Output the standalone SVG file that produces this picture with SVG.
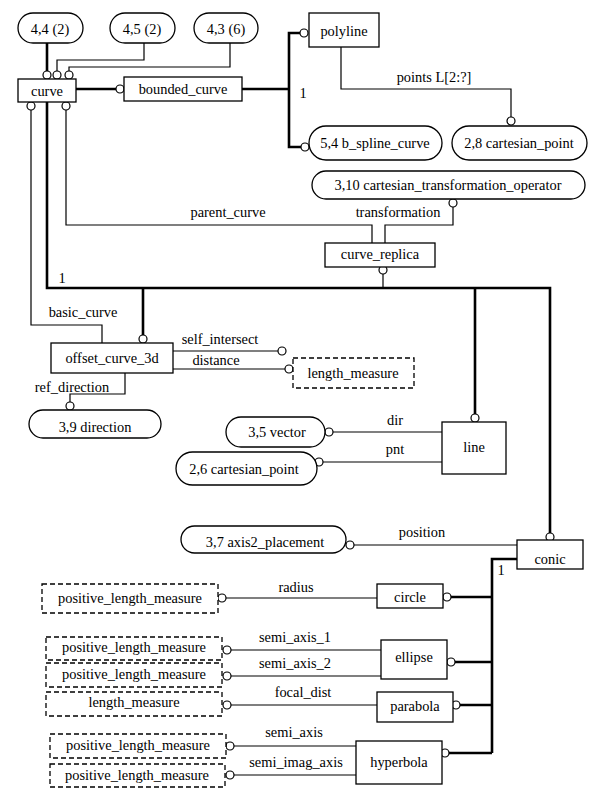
<svg xmlns="http://www.w3.org/2000/svg" width="596" height="797" viewBox="0 0 596 797">
<style>
.ent{fill:#fff;stroke:#000;stroke-width:1.3}
.ref{fill:#fff;stroke:#000;stroke-width:1.3}
.typ{fill:#fff;stroke:#000;stroke-width:1.3;stroke-dasharray:5,3}
.thin{fill:none;stroke:#000;stroke-width:1.2}
.thick{fill:none;stroke:#000;stroke-width:2.6}
.c{fill:#fff;stroke:#000;stroke-width:1.2}
text{font-family:"Liberation Serif","Times New Roman",serif;font-size:14.4px;fill:#000;text-anchor:middle}
</style>
<rect width="596" height="797" fill="#fff"/>
<g id="connectors">
<path class="thick" d="M47 43V71"/>
<path class="thin" d="M144 43V60H57V71"/>
<path class="thin" d="M230 43V67H69V71"/>
<path class="thick" d="M76 89H116"/>
<path class="thick" d="M242 89H289M300 33H289V147H301"/>
<path class="thin" d="M341 47V89H511V117"/>
<path class="thick" d="M47 102V288H550V533M143 288V335M475 288V414"/>
<path class="thin" d="M383 274V288"/>
<path class="thin" d="M66 110V225H372V243"/>
<path class="thin" d="M453 207V225H385V243"/>
<path class="thin" d="M31 110V325H102V343"/>
<path class="thin" d="M173 351H278"/>
<path class="thin" d="M173 369H285"/>
<path class="thin" d="M125 373V394H70V402"/>
<path class="thin" d="M333 432H442"/>
<path class="thin" d="M323 462H442"/>
<path class="thin" d="M354 545H517"/>
<path class="thick" d="M517 559H492V753M451 597H492M455 662H492M460 705H492M449 753H492"/>
<path class="thin" d="M226 598H377"/>
<path class="thin" d="M231 650H381"/>
<path class="thin" d="M231 676H381"/>
<path class="thin" d="M231 705H377"/>
<path class="thin" d="M234 746H356"/>
<path class="thin" d="M234 775H356"/>
<circle class="c" cx="47" cy="75" r="4"/>
<circle class="c" cx="57" cy="75" r="4"/>
<circle class="c" cx="69" cy="75" r="4"/>
<circle class="c" cx="120" cy="89" r="4"/>
<circle class="c" cx="304" cy="33" r="4"/>
<circle class="c" cx="305" cy="147" r="4"/>
<circle class="c" cx="511" cy="121" r="4"/>
<circle class="c" cx="550" cy="537" r="4"/>
<circle class="c" cx="143" cy="339" r="4"/>
<circle class="c" cx="475" cy="418" r="4"/>
<circle class="c" cx="383" cy="270" r="4"/>
<circle class="c" cx="66" cy="106" r="4"/>
<circle class="c" cx="31" cy="106" r="4"/>
<circle class="c" cx="453" cy="203" r="4"/>
<circle class="c" cx="282" cy="351" r="4"/>
<circle class="c" cx="289" cy="369" r="4"/>
<circle class="c" cx="70" cy="406" r="4"/>
<circle class="c" cx="329" cy="432" r="4"/>
<circle class="c" cx="319" cy="462" r="4"/>
<circle class="c" cx="350" cy="545" r="4"/>
<circle class="c" cx="447" cy="597" r="4"/>
<circle class="c" cx="451" cy="662" r="4"/>
<circle class="c" cx="456" cy="705" r="4"/>
<circle class="c" cx="445" cy="753" r="4"/>
<circle class="c" cx="222" cy="598" r="4"/>
<circle class="c" cx="227" cy="650" r="4"/>
<circle class="c" cx="227" cy="676" r="4"/>
<circle class="c" cx="227" cy="705" r="4"/>
<circle class="c" cx="230" cy="746" r="4"/>
<circle class="c" cx="230" cy="775" r="4"/>
<text x="303" y="98">1</text>
<text x="434" y="82">points L[2:?]</text>
<text x="228" y="217">parent_curve</text>
<text x="398" y="217">transformation</text>
<text x="62" y="283">1</text>
<text x="83" y="317">basic_curve</text>
<text x="220" y="344">self_intersect</text>
<text x="216" y="365">distance</text>
<text x="72" y="392">ref_direction</text>
<text x="395" y="425">dir</text>
<text x="395" y="454">pnt</text>
<text x="422" y="537">position</text>
<text x="501" y="575">1</text>
<text x="296" y="592">radius</text>
<text x="295" y="642">semi_axis_1</text>
<text x="295" y="668">semi_axis_2</text>
<text x="303" y="697">focal_dist</text>
<text x="294" y="737">semi_axis</text>
<text x="296" y="767">semi_imag_axis</text>
</g>
<g id="ref44"><rect class="ref" x="18" y="13" width="65" height="30" rx="15"/><text x="50" y="34">4,4 (2)</text></g>
<g id="ref45"><rect class="ref" x="110" y="13" width="65" height="30" rx="15"/><text x="142" y="34">4,5 (2)</text></g>
<g id="ref43"><rect class="ref" x="194" y="13" width="64" height="30" rx="15"/><text x="226" y="34">4,3 (6)</text></g>
<g id="curve"><rect class="ent" x="18" y="79" width="58" height="23"/><text x="47" y="96">curve</text></g>
<g id="bounded_curve"><rect class="ent" x="124" y="77" width="118" height="24"/><text x="183" y="94">bounded_curve</text></g>
<g id="polyline"><rect class="ent" x="309" y="13" width="70" height="34"/><text x="344" y="36">polyline</text></g>
<g id="b_spline_curve"><rect class="ref" x="309" y="126" width="133" height="34" rx="17"/><text x="375" y="148">5,4 b_spline_curve</text></g>
<g id="cartesian_point_28"><rect class="ref" x="452" y="126" width="135" height="34" rx="17"/><text x="519" y="148">2,8 cartesian_point</text></g>
<g id="cartesian_transformation_operator"><rect class="ref" x="312" y="171" width="273" height="28" rx="14"/><text x="448" y="190">3,10 cartesian_transformation_operator</text></g>
<g id="curve_replica"><rect class="ent" x="325" y="243" width="110" height="24"/><text x="380" y="259">curve_replica</text></g>
<g id="offset_curve_3d"><rect class="ent" x="51" y="343" width="122" height="30"/><text x="112" y="363">offset_curve_3d</text></g>
<g id="length_measure_1"><rect class="typ" x="293" y="358" width="121" height="30"/><text x="353" y="378">length_measure</text></g>
<g id="direction"><rect class="ref" x="29" y="410" width="132" height="28" rx="14"/><text x="95" y="432">3,9 direction</text></g>
<g id="vector"><rect class="ref" x="226" y="417" width="99" height="30" rx="15"/><text x="277" y="437">3,5 vector</text></g>
<g id="cartesian_point_26"><rect class="ref" x="176" y="452" width="141" height="33" rx="16.5"/><text x="244" y="474">2,6 cartesian_point</text></g>
<g id="line"><rect class="ent" x="442" y="422" width="64" height="52"/><text x="474" y="452">line</text></g>
<g id="axis2_placement"><rect class="ref" x="181" y="526" width="165" height="27" rx="13.5"/><text x="265" y="547">3,7 axis2_placement</text></g>
<g id="conic"><rect class="ent" x="517" y="540" width="66" height="29"/><text x="550" y="564">conic</text></g>
<g id="circle"><rect class="ent" x="377" y="584" width="66" height="24"/><text x="410" y="602">circle</text></g>
<g id="plm_radius"><rect class="typ" x="42" y="584" width="176" height="29"/><text x="130" y="603">positive_length_measure</text></g>
<g id="ellipse"><rect class="ent" x="381" y="640" width="66" height="39"/><text x="414" y="662">ellipse</text></g>
<g id="plm_semi1"><rect class="typ" x="46" y="637" width="176" height="23"/><text x="134" y="652">positive_length_measure</text></g>
<g id="plm_semi2"><rect class="typ" x="46" y="663" width="176" height="24"/><text x="134" y="679">positive_length_measure</text></g>
<g id="parabola"><rect class="ent" x="377" y="692" width="76" height="30"/><text x="415" y="711">parabola</text></g>
<g id="length_measure_2"><rect class="typ" x="46" y="692" width="176" height="24"/><text x="134" y="707">length_measure</text></g>
<g id="hyperbola"><rect class="ent" x="356" y="741" width="86" height="43"/><text x="399" y="767">hyperbola</text></g>
<g id="plm_semi_axis"><rect class="typ" x="50" y="734" width="176" height="24"/><text x="138" y="750">positive_length_measure</text></g>
<g id="plm_semi_imag"><rect class="typ" x="50" y="764" width="175" height="23"/><text x="137" y="780">positive_length_measure</text></g>
</svg>
